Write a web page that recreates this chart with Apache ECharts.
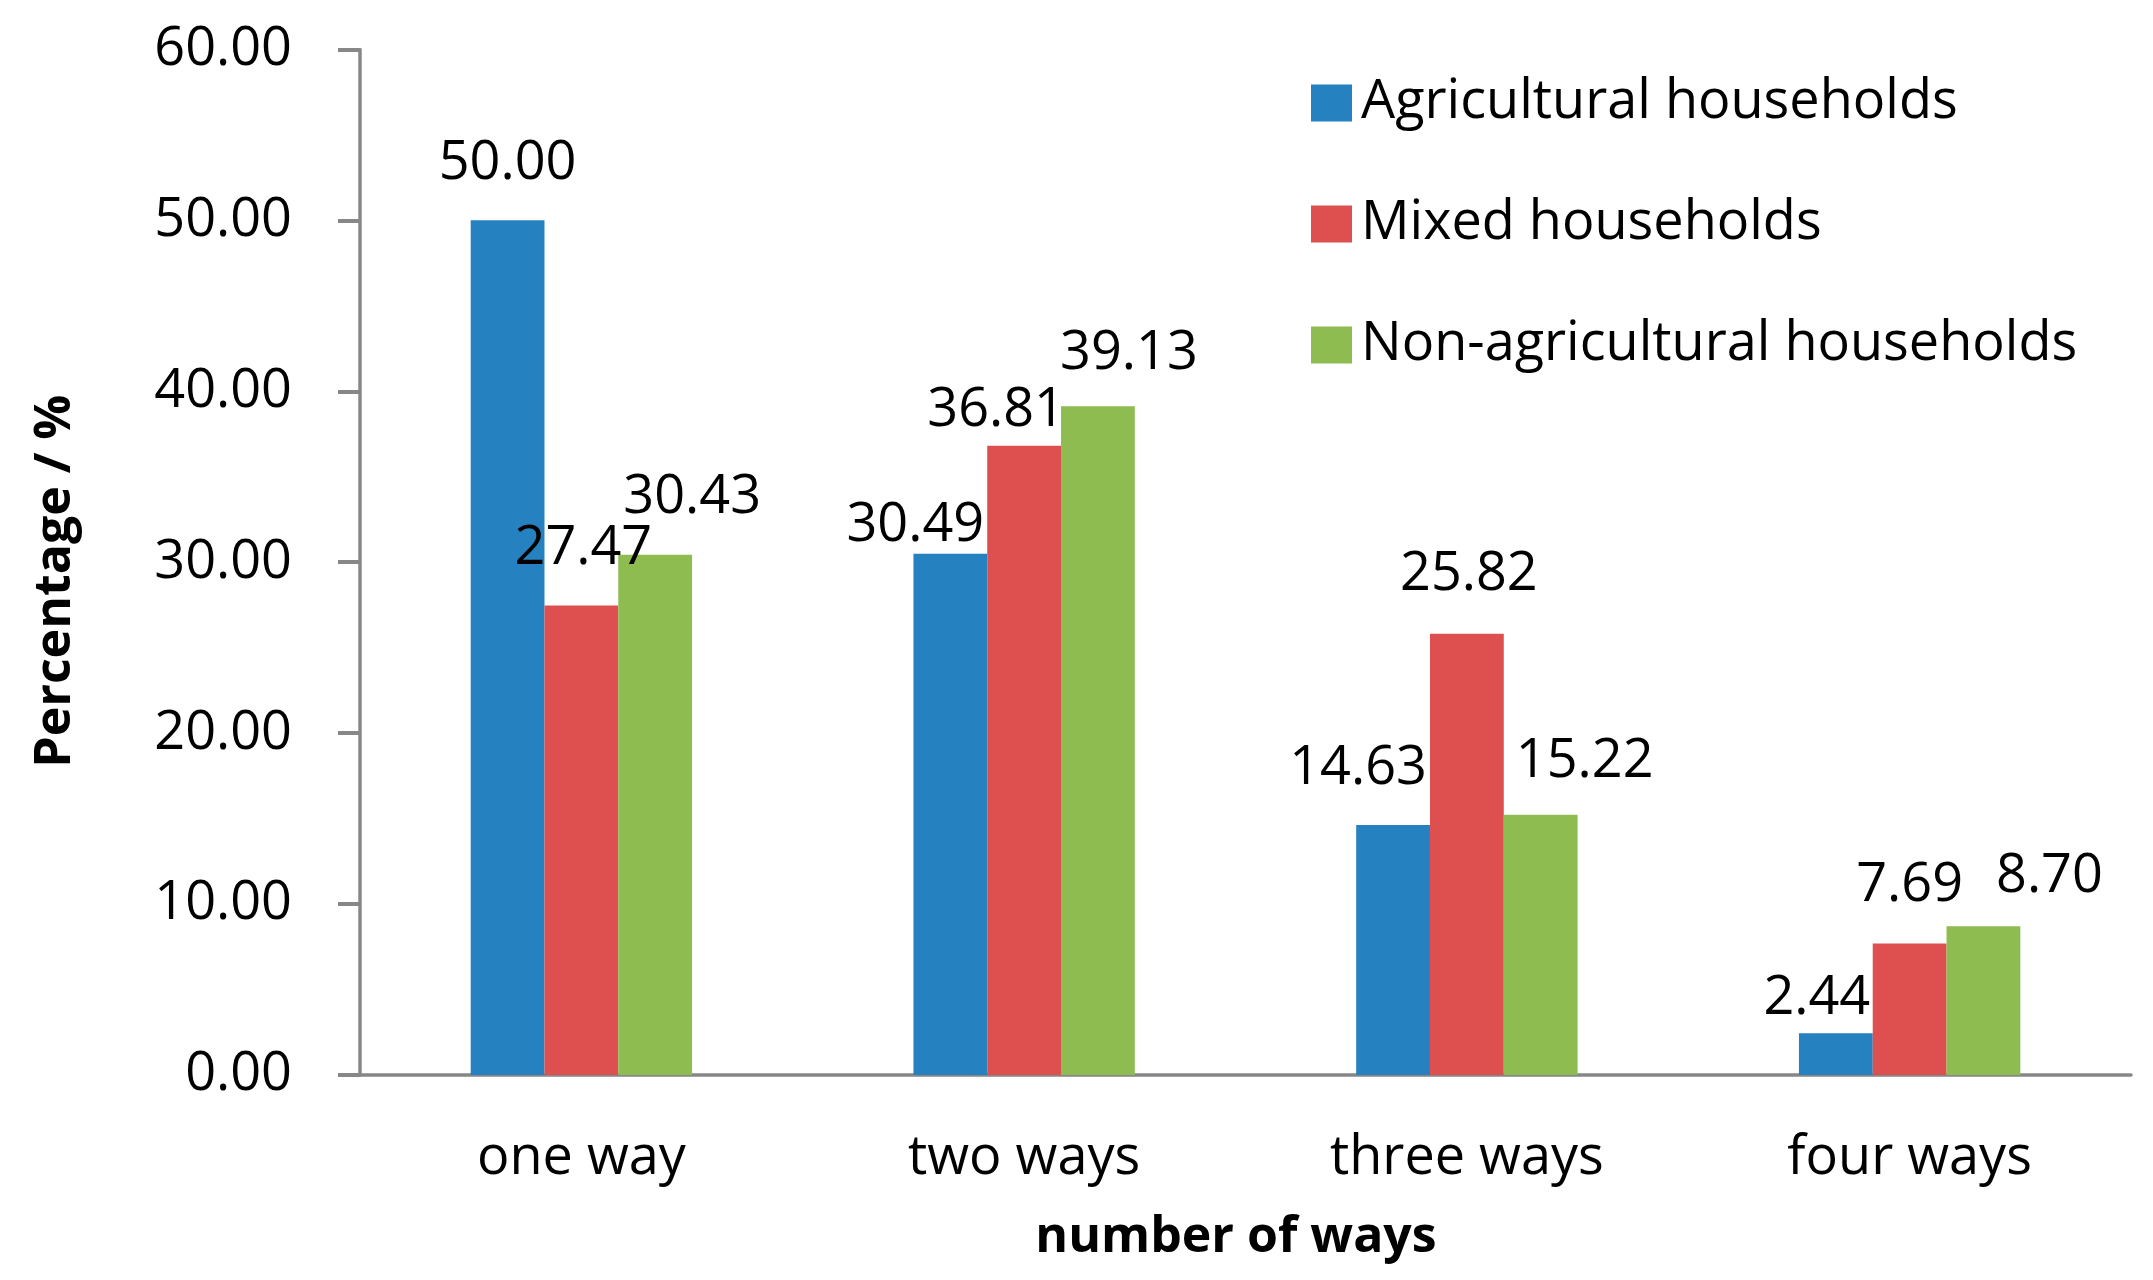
<!DOCTYPE html>
<html>
<head>
<meta charset="utf-8">
<script src="https://cdn.jsdelivr.net/npm/echarts@6/dist/echarts.min.js"></script>
<style>
html,body{margin:0;padding:0;background:#fff;}
#chart{width:2153px;height:1280px;}
</style>
</head>
<body>
<div id="chart"></div>
<script>
// ---- data ----
const categories = ['one way', 'two ways', 'three ways', 'four ways'];
const seriesNames = ['Agricultural households', 'Mixed households', 'Non-agricultural households'];
const agricultural = [50.00, 30.49, 14.63, 2.44];
const mixed = [27.47, 36.81, 25.82, 7.69];
const nonAgricultural = [30.43, 39.13, 15.22, 8.70];
const yTicks = [0, 10, 20, 30, 40, 50, 60];

// ---- styling ----
const colors = ['#2581C0', '#DE4F4F', '#8EBC50'];
const FONT = 'Open Sans';
const FS = 54;
// per-label nudges [dx, dy] (label placement as in the original)
const labelNudges = [
  [[0, 0], [-35, 29], [-35, 1], [-19, 22]],
  [[2, 0], [-28, 22], [2, -2], [0, -1]],
  [[37, 0], [31, 4], [44, 4], [66, 7]]
];

const valuesList = [agricultural, mixed, nonAgricultural];

const chart = echarts.init(document.getElementById('chart'), null, {renderer: 'canvas'});

const series = valuesList.map((vals, si) => ({
  name: seriesNames[si],
  type: 'bar',
  barGap: '0%',
  barCategoryGap: '50%',
  itemStyle: {color: colors[si]},
  data: vals.map((v, i) => ({
    value: v,
    label: {offset: labelNudges[si][i]}
  })),
  label: {
    show: true,
    position: 'top',
    distance: 29,
    fontFamily: FONT,
    fontSize: FS,
    lineHeight: 56,
    color: '#000',
    formatter: p => Number(p.value).toFixed(2)
  }
}));

chart.setOption({
  animation: false,
  backgroundColor: '#fff',
  textStyle: {fontFamily: FONT},
  grid: {left: 360, right: 22, top: 49.4, bottom: 205, containLabel: false},
  legend: {
    orient: 'vertical',
    left: 1306,
    top: 71,
    itemWidth: 41,
    itemHeight: 37,
    itemGap: 67,
    icon: 'rect',
    data: seriesNames,
    textStyle: {fontFamily: FONT, fontSize: FS, lineHeight: 54, color: '#000', padding: [0, 0, 0, 4]}
  },
  xAxis: {
    type: 'category',
    data: categories,
    axisLine: {show: true, lineStyle: {color: '#878787', width: 3.5}},
    axisTick: {show: false},
    axisLabel: {fontFamily: FONT, fontSize: FS, color: '#000', margin: 57, lineHeight: 54},
    name: 'number of ways',
    nameLocation: 'middle',
    nameGap: 138,
    nameTextStyle: {fontFamily: FONT, fontSize: 50, fontWeight: 'bold', color: '#000', padding: [0, 19, 0, 0]}
  },
  yAxis: {
    type: 'value',
    min: yTicks[0],
    max: yTicks[yTicks.length - 1],
    interval: yTicks[1] - yTicks[0],
    splitLine: {show: false},
    axisLine: {show: true, lineStyle: {color: '#878787', width: 3.5}},
    axisTick: {show: true, inside: false, length: 22, lineStyle: {color: '#878787', width: 4}},
    axisLabel: {fontFamily: FONT, fontSize: FS, color: '#000', margin: 68, formatter: v => v.toFixed(2)},
    name: 'Percentage / %',
    nameLocation: 'middle',
    nameGap: 279,
    nameTextStyle: {fontFamily: FONT, fontSize: 50, fontWeight: 'bold', color: '#000', padding: [0, 38, 0, 0]}
  },
  series: series
});
</script>
</body>
</html>
